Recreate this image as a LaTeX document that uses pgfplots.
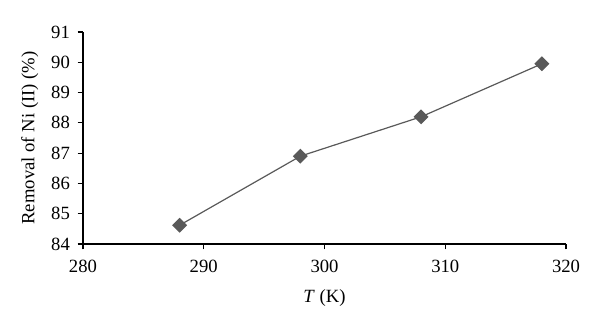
\documentclass[border=0pt]{standalone}
\usepackage{pgfplots}
\pgfplotsset{compat=1.18}
\usepackage{fontspec}
\setmainfont{Liberation Serif}
\definecolor{markgray}{HTML}{595959}
\begin{document}
\fontsize{14}{16}\selectfont
\begin{tikzpicture}
\useasboundingbox (-62.25pt,-63.75pt) rectangle (387.75pt,183pt);
\begin{axis}[
  at={(0,0)}, anchor=south west,
  scale only axis, width=362.25pt, height=159pt,
  xmin=280, xmax=320, ymin=84, ymax=91,
  xtick={280,290,300,310,320}, ytick={84,85,...,91},
  axis lines*=left,
  axis line style={black, line width=0.9pt},
  tick align=outside, major tick length=4pt,
  tick style={black, line width=0.9pt},
  /pgf/number format/assume math mode=true,
  ticklabel style={font=\fontsize{14}{16}\selectfont},
  xticklabel style={yshift=-3pt},
  yticklabel style={xshift=-1pt},
  label style={font=\fontsize{14}{16}\selectfont},
  xlabel={\textit{T} (K)},
  ylabel={Removal of Ni (II) (\%)},
  xlabel style={yshift=-3pt},
  ylabel style={yshift=0pt},
  clip=false,
]
\addplot[color=markgray, line width=0.9pt, mark=square*, mark size=3.5pt,
  mark options={rotate=45, fill=markgray, draw=markgray}]
  coordinates {(288,84.62) (298,86.9) (308,88.2) (318,89.95)};
\end{axis}
\end{tikzpicture}
\end{document}
